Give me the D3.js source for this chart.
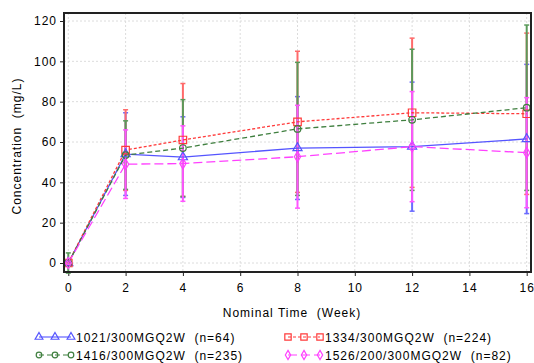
<!DOCTYPE html>
<html>
<head>
<meta charset="utf-8">
<script src="https://cdn.jsdelivr.net/npm/d3@7"></script>
<style>
  body { margin: 0; background: #fff; }
  text { font-family: "Liberation Sans", Arial, sans-serif; font-size: 12px; letter-spacing: 1px; fill: #000; white-space: pre; }
</style>
</head>
<body>
<div id="chart"></div>
<script>
// nominal weeks
const weeks = [0, 2, 4, 8, 12, 16]

// means and SD
const blueMean = [0, 54, 52.5, 57, 57.7, 61.5]
const blueSd = [1, 20.5, 20, 25.5, 32, 37]
const redMean = [0, 56, 61, 70, 74.5, 74]
const redSd = [0.5, 20, 28, 35, 37, 40]
const greenMean = [0, 53.5, 57, 66.5, 71, 77]
const greenSd = [5, 17, 24, 33, 35, 41]
const pinkMean = [0, 49, 49.3, 52.7, 57.7, 54.7]
const pinkSd = [1, 17, 18.7, 25.5, 27.3, 27.3]

const groupNames = ['1021/300MGQ2W', '1334/300MGQ2W', '1416/300MGQ2W', '1526/200/300MGQ2W']
const groupN = [64, 224, 235, 82]

const xTicks = [0, 2, 4, 6, 8, 10, 12, 14, 16]
const yTicks = [0, 20, 40, 60, 80, 100, 120]

const series = [
    { name: groupNames[0], n: groupN[0], mean: blueMean, sd: blueSd, color: '#5555ff', bar: '#6a6aff', dash: null, shape: d3.symbolTriangle },
    { name: groupNames[1], n: groupN[1], mean: redMean, sd: redSd, color: '#ff3a3a', bar: '#ff6a6a', dash: '3,2', shape: d3.symbolSquare },
    { name: groupNames[2], n: groupN[2], mean: greenMean, sd: greenSd, color: '#3f7f3f', bar: '#5a9a5a', dash: '5,3', shape: 'circle' },
    { name: groupNames[3], n: groupN[3], mean: pinkMean, sd: pinkSd, color: '#ff40ff', bar: '#ff55ff', dash: '9,4', shape: d3.symbolDiamond }
]

const width = 534, height = 363
const frame = { left: 64, right: 531, top: 13, bottom: 272 }

const x = d3.scaleLinear().domain([0, 16]).range([68.3, 526.7])
const y = d3.scaleLinear().domain([0, 120]).range([263, 21])

const svg = d3.select('#chart').append('svg')
    .attr('width', width)
    .attr('height', height)

// grid
svg.append('g').selectAll('line').data(yTicks).join('line')
    .attr('x1', frame.left).attr('x2', frame.right)
    .attr('y1', d => y(d)).attr('y2', d => y(d))
    .attr('stroke', '#dcdcdc').attr('stroke-dasharray', '2,2')
svg.append('g').selectAll('line').data(xTicks).join('line')
    .attr('y1', frame.top).attr('y2', frame.bottom)
    .attr('x1', d => x(d)).attr('x2', d => x(d))
    .attr('stroke', '#dcdcdc').attr('stroke-dasharray', '2,2')

// axes
const yAxis = svg.append('g')
    .attr('transform', `translate(${frame.left},0)`)
    .call(d3.axisLeft(y).tickValues(yTicks).tickSize(4).tickPadding(3))
const xAxis = svg.append('g')
    .attr('transform', `translate(0,${frame.bottom})`)
    .call(d3.axisBottom(x).tickValues(xTicks).tickSize(4).tickPadding(7))
yAxis.select('.domain').remove()
xAxis.select('.domain').remove()
svg.selectAll('.tick line').attr('stroke', '#222')
svg.selectAll('.tick text').attr('font-size', 12).attr('font-family', null).attr('fill', '#000')

function marker(g, shape, color, cx, cy, k) {
    if (shape === 'circle') {
        g.append('circle').attr('cx', cx).attr('cy', cy).attr('r', 3.3 * k)
            .attr('fill', 'none').attr('stroke', color).attr('stroke-width', 1.2)
    } else {
        const size = shape === d3.symbolSquare ? 56 : shape === d3.symbolTriangle ? 36 : 34
        g.append('path').attr('d', d3.symbol(shape, size * k * k)())
            .attr('transform', `translate(${cx},${cy})`)
            .attr('fill', 'none').attr('stroke', color).attr('stroke-width', 1.2)
    }
}

// error bars
series.forEach(s => {
    const g = svg.append('g')
    weeks.forEach((w, i) => {
        const lo = y(s.mean[i] - s.sd[i]), hi = y(s.mean[i] + s.sd[i])
        g.append('line').attr('x1', x(w)).attr('x2', x(w)).attr('y1', lo).attr('y2', hi)
            .attr('stroke', s.bar).attr('stroke-width', 2)
        ;[lo, hi].forEach(v => g.append('line')
            .attr('x1', x(w) - 2.5).attr('x2', x(w) + 2.5).attr('y1', v).attr('y2', v)
            .attr('stroke', s.bar).attr('stroke-width', 1.5))
    })
})

// mean lines
const line = d3.line().x((d, i) => x(weeks[i])).y(d => y(d))
series.forEach(s => {
    svg.append('path').datum(s.mean)
        .attr('d', line)
        .attr('fill', 'none')
        .attr('stroke', s.color)
        .attr('stroke-width', 1.3)
        .attr('stroke-dasharray', s.dash)
})

// markers
series.forEach(s => {
    const g = svg.append('g')
    s.mean.forEach((m, i) => marker(g, s.shape, s.color, x(weeks[i]), y(m), 1))
})

// frame
svg.append('rect')
    .attr('x', frame.left).attr('y', frame.top)
    .attr('width', frame.right - frame.left).attr('height', frame.bottom - frame.top)
    .attr('fill', 'none').attr('stroke', '#222').attr('stroke-width', 2)

// axis titles
svg.append('text')
    .attr('transform', 'translate(21,146) rotate(-90)')
    .attr('text-anchor', 'middle')
    .text('Concentration  (mg/L)')
svg.append('text')
    .attr('x', 292).attr('y', 317)
    .attr('text-anchor', 'middle')
    .text('Nominal Time  (Week)')

// legend
const legendPos = [[39, 337], [288, 337], [39, 355], [288, 355]]
series.forEach((s, i) => {
    const [lx, ly] = legendPos[i]
    const g = svg.append('g')
    g.append('line').attr('x1', lx).attr('x2', lx + 32).attr('y1', ly).attr('y2', ly)
        .attr('stroke', s.color).attr('stroke-width', 1.1).attr('stroke-dasharray', s.dash)
    ;[0, 16, 32].forEach(dx => marker(g, s.shape, s.color, lx + dx, ly, 0.85))
    g.append('text').attr('x', lx + 37).attr('y', ly + 4.5)
        .text(`${s.name}  (n=${s.n})`)
})
</script>
</body>
</html>
